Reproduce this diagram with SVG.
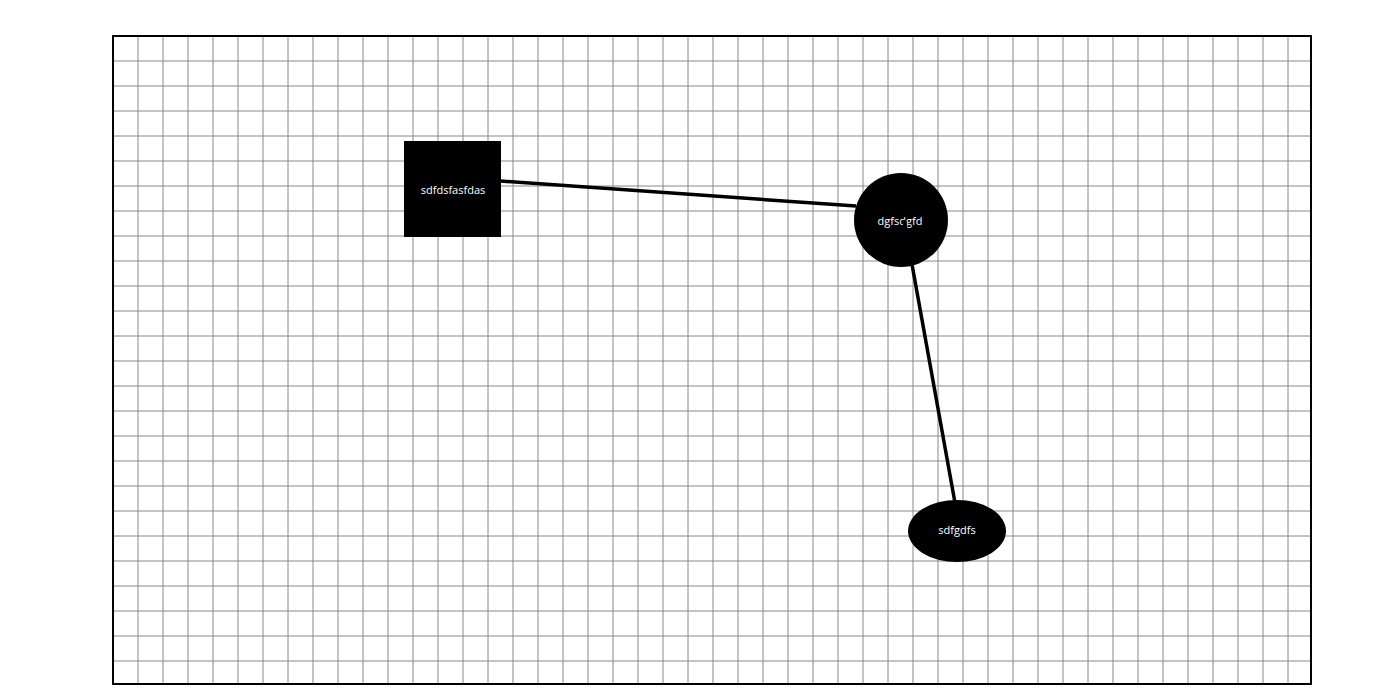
<svg xmlns="http://www.w3.org/2000/svg" width="1400" height="700" viewBox="0 0 1400 700">
<style>
.grid{stroke:#888;stroke-width:1;fill:none}
.frame{fill:none;stroke:#000;stroke-width:2}
.node{fill:#000}
.lbl{fill:#fff;font-family:"Open Sans","Noto Sans",sans-serif;font-size:11px;text-anchor:middle}
.edge{stroke:#000;stroke-width:3.5;fill:none}
</style>
<rect width="1400" height="700" fill="#fff"/>
<g id="grid">
<path class="grid" d="M138 36V684M163 36V684M188 36V684M213 36V684M238 36V684M263 36V684M288 36V684M313 36V684M338 36V684M363 36V684M388 36V684M413 36V684M438 36V684M463 36V684M488 36V684M513 36V684M538 36V684M563 36V684M588 36V684M613 36V684M638 36V684M663 36V684M688 36V684M713 36V684M738 36V684M763 36V684M788 36V684M813 36V684M838 36V684M863 36V684M888 36V684M913 36V684M938 36V684M963 36V684M988 36V684M1013 36V684M1038 36V684M1063 36V684M1088 36V684M1113 36V684M1138 36V684M1163 36V684M1188 36V684M1213 36V684M1238 36V684M1263 36V684M1288 36V684"/>
<path class="grid" d="M113 61H1311M113 86H1311M113 111H1311M113 136H1311M113 161H1311M113 186H1311M113 211H1311M113 236H1311M113 261H1311M113 286H1311M113 311H1311M113 336H1311M113 361H1311M113 386H1311M113 411H1311M113 436H1311M113 461H1311M113 486H1311M113 511H1311M113 536H1311M113 561H1311M113 586H1311M113 611H1311M113 636H1311M113 661H1311"/>
<rect class="frame" x="113" y="36" width="1198" height="648"/>
</g>
<g id="node-square">
<rect class="node" x="404" y="141" width="97" height="96"/>
<text class="lbl" x="453" y="194">sdfdsfasfdas</text>
</g>
<g id="node-circle">
<circle class="node" cx="901" cy="220" r="47"/>
<text class="lbl" x="900" y="225">dgfsdgfd</text>
</g>
<g id="node-ellipse">
<ellipse class="node" cx="957" cy="531" rx="49" ry="31"/>
<text class="lbl" x="957" y="534">sdfgdfs</text>
</g>
<g id="connectors">
<line class="edge" x1="501" y1="181" x2="856" y2="206"/>
<line class="edge" x1="904" y1="220" x2="959" y2="525"/>
</g>
</svg>
